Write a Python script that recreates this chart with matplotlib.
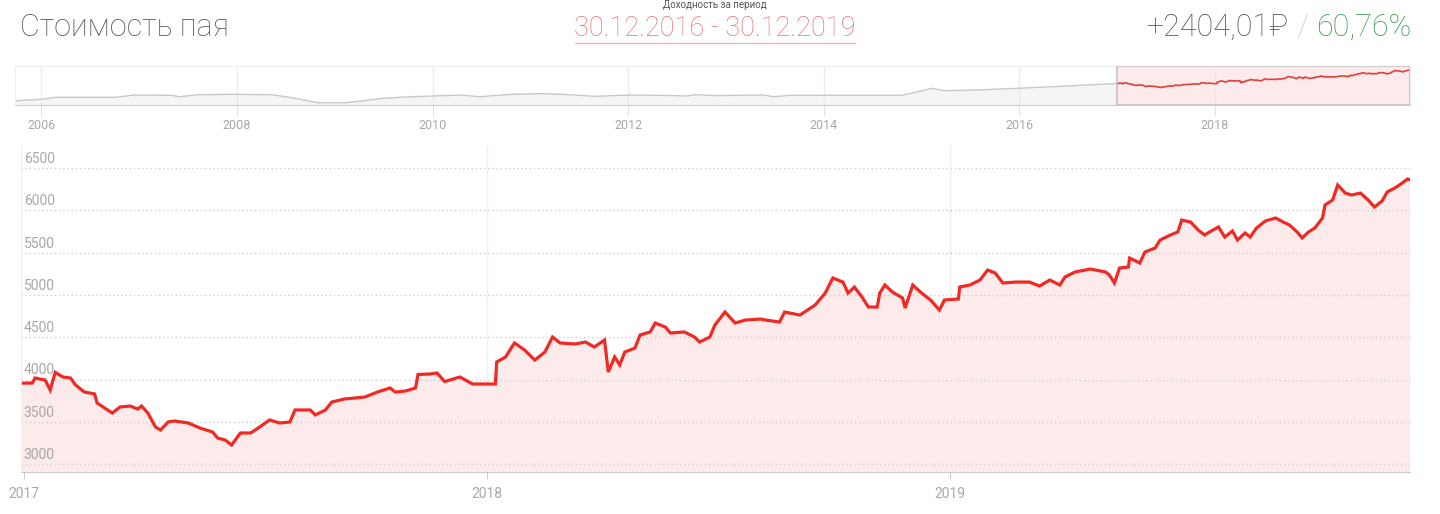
import numpy as np
import matplotlib.pyplot as plt
import matplotlib.transforms as mtransforms

plt.rcParams['font.family'] = ['Roboto', 'DejaVu Sans']

# unit price inside the selected period (30.12.2016 - 30.12.2019)
price_dates = [
    '2016-12-30', '2017-01-08', '2017-01-10', '2017-01-18', '2017-01-22', '2017-01-26',
    '2017-02-01', '2017-02-07', '2017-02-11', '2017-02-18', '2017-02-26', '2017-02-28',
    '2017-03-06', '2017-03-12', '2017-03-18', '2017-03-26', '2017-04-01', '2017-04-04',
    '2017-04-09', '2017-04-15', '2017-04-19', '2017-04-25', '2017-04-30', '2017-05-11',
    '2017-05-20', '2017-05-30', '2017-06-03', '2017-06-09', '2017-06-14', '2017-06-21',
    '2017-06-29', '2017-07-05', '2017-07-14', '2017-07-22', '2017-07-30', '2017-08-03',
    '2017-08-15', '2017-08-19', '2017-08-27', '2017-09-01', '2017-09-11', '2017-09-19',
    '2017-09-27', '2017-10-07', '2017-10-17', '2017-10-21', '2017-10-29', '2017-11-06',
    '2017-11-08', '2017-11-17', '2017-11-23', '2017-11-29', '2017-12-11', '2017-12-21',
    '2018-01-08', '2018-01-09', '2018-01-16', '2018-01-23', '2018-01-31', '2018-02-08',
    '2018-02-16', '2018-02-22', '2018-02-28', '2018-03-12', '2018-03-20', '2018-03-27',
    '2018-04-04', '2018-04-07', '2018-04-12', '2018-04-16', '2018-04-20', '2018-04-28',
    '2018-05-02', '2018-05-10', '2018-05-14', '2018-05-22', '2018-05-26', '2018-06-06',
    '2018-06-14', '2018-06-18', '2018-06-26', '2018-06-30', '2018-07-08', '2018-07-16',
    '2018-07-24', '2018-08-05', '2018-08-09', '2018-08-20', '2018-08-24', '2018-09-05',
    '2018-09-17', '2018-09-25', '2018-10-01', '2018-10-09', '2018-10-13', '2018-10-18',
    '2018-10-24', '2018-10-29', '2018-11-05', '2018-11-07', '2018-11-11', '2018-11-17',
    '2018-11-25', '2018-11-27', '2018-12-03', '2018-12-09', '2018-12-17', '2018-12-24',
    '2018-12-28', '2019-01-08', '2019-01-09', '2019-01-17', '2019-01-25', '2019-01-31',
    '2019-02-06', '2019-02-12', '2019-02-22', '2019-03-05', '2019-03-13', '2019-03-21',
    '2019-03-29', '2019-04-02', '2019-04-10', '2019-04-22', '2019-05-04', '2019-05-07',
    '2019-05-11', '2019-05-15', '2019-05-22', '2019-05-23', '2019-05-31', '2019-06-04',
    '2019-06-12', '2019-06-16', '2019-06-24', '2019-06-30', '2019-07-03', '2019-07-10',
    '2019-07-16', '2019-07-21', '2019-07-25', '2019-08-01', '2019-08-06', '2019-08-12',
    '2019-08-16', '2019-08-22', '2019-08-26', '2019-08-31', '2019-09-07', '2019-09-15',
    '2019-09-21', '2019-09-26', '2019-10-02', '2019-10-06', '2019-10-11', '2019-10-16',
    '2019-10-22', '2019-10-24', '2019-10-30', '2019-11-03', '2019-11-09', '2019-11-14',
    '2019-11-21', '2019-11-27', '2019-12-02', '2019-12-08', '2019-12-12', '2019-12-18',
    '2019-12-24', '2019-12-28', '2019-12-30',
]
price_values = [
    3957, 3959, 4018, 3994, 3876, 4085,
    4030, 4018, 3935, 3852, 3830, 3722,
    3663, 3604, 3675, 3687, 3651, 3687,
    3604, 3439, 3403, 3498, 3510, 3486,
    3427, 3380, 3309, 3285, 3226, 3368,
    3368, 3427, 3522, 3486, 3498, 3640,
    3640, 3581, 3640, 3734, 3770, 3782,
    3793, 3852, 3900, 3852, 3864, 3900,
    4060, 4065, 4077, 3976, 4030, 3947,
    3947, 4207, 4266, 4432, 4349, 4230,
    4325, 4502, 4432, 4420, 4443, 4384,
    4467, 4089, 4266, 4172, 4325, 4372,
    4526, 4562, 4668, 4620, 4550, 4562,
    4502, 4443, 4502, 4644, 4798, 4668,
    4703, 4715, 4703, 4680, 4798, 4762,
    4880, 5022, 5200, 5152, 5022, 5093,
    4975, 4857, 4857, 5022, 5117, 5034,
    4963, 4845, 5117, 5034, 4940, 4821,
    4940, 4952, 5093, 5117, 5176, 5294,
    5259, 5141, 5152, 5152, 5105, 5176,
    5117, 5212, 5271, 5306, 5271, 5235,
    5141, 5318, 5330, 5436, 5377, 5507,
    5554, 5649, 5708, 5744, 5885, 5862,
    5767, 5708, 5744, 5803, 5684, 5756,
    5649, 5732, 5684, 5791, 5874, 5909,
    5862, 5826, 5744, 5673, 5744, 5791,
    5909, 6063, 6122, 6299, 6204, 6181,
    6204, 6122, 6039, 6110, 6216, 6263,
    6323, 6370, 6361,
]

# full history shown in the navigator before the period
history_dates = [
    '2005-10-01', '2006-01-01', '2006-02-25', '2006-10-05', '2006-12-15', '2007-05-01',
    '2007-06-03', '2007-08-10', '2007-12-25', '2008-05-08', '2008-07-16', '2008-10-30',
    '2009-02-10', '2009-04-20', '2009-06-28', '2009-10-12', '2010-01-05', '2010-04-15',
    '2010-06-25', '2010-10-23', '2011-02-03', '2011-05-01', '2011-08-29', '2012-01-15',
    '2012-04-27', '2012-08-08', '2012-09-13', '2012-11-17', '2013-05-23', '2013-06-25',
    '2013-09-02', '2014-10-19', '2014-12-09', '2015-02-10', '2015-03-26', '2015-07-24',
    '2015-12-24', '2016-03-17', '2016-06-28', '2016-09-05', '2016-12-30',
]
history_values = [
    887, 1137, 1494, 1494, 1905, 1850,
    1600, 1960, 2030, 1960, 1494, 530,
    530, 887, 1316, 1600, 1726, 1905,
    1600, 2030, 2140, 2030, 1670, 1905,
    1850, 1726, 1960, 1790, 1905, 1600,
    1850, 1850, 2387, 3100, 2670, 2798,
    3100, 3280, 3513, 3690, 3957,
]

y_ticks = [3000, 3500, 4000, 4500, 5000, 5500, 6000, 6500]
main_years = ['2017', '2018', '2019']
nav_years = ['2006', '2008', '2010', '2012', '2014', '2016', '2018']

period_start, period_end = '2016-12-30', '2019-12-30'

pd_dates = np.array(price_dates, dtype='datetime64[D]')
hist_dates = np.array(history_dates, dtype='datetime64[D]')

W, H = 1440, 514
fig = plt.figure(figsize=(W / 100, H / 100), dpi=100)

red = '#ee2a24'
pink = '#fdeaea'
grey_txt = '#a8a8a8'

# ---------- main chart ----------
ax = fig.add_axes([21 / W, 1 - 472 / H, (1410 - 21) / W, (472 - 145) / H])
ax.fill_between(pd_dates, price_values, 0, color=pink, lw=0)
ax.plot(pd_dates, price_values, color=red, lw=2.3, solid_joinstyle='miter')
ax.set_xlim(np.datetime64(period_start), np.datetime64(period_end))
ax.set_ylim(2907, 6772)

ax.set_yticks(y_ticks)
ax.set_yticklabels([])
ax.tick_params(axis='y', length=0)
ax.grid(axis='y', color='#cfcfcf', ls=(0, (1, 2)), lw=1)

year_ticks = [np.datetime64(y + '-01-01') for y in main_years]
ax.set_xticks(year_ticks)
ax.set_xticklabels(main_years, color=grey_txt, fontsize=10)
ax.tick_params(axis='x', length=5, color='#cccccc', pad=6)
for t in year_ticks[1:]:
    ax.axvline(t, color='#efefef', lw=1, zorder=0)
for s in ['top', 'right']:
    ax.spines[s].set_visible(False)
ax.spines['left'].set_color('#f0f0f0')
ax.spines['bottom'].set_color('#cccccc')

ylab_tr = mtransforms.blended_transform_factory(ax.transAxes, ax.transData)
for v in y_ticks:
    ax.text(0.002, v + 25, str(v), transform=ylab_tr, ha='left', va='bottom',
            color=grey_txt, fontsize=10, zorder=1)

# ---------- navigator ----------
nav = fig.add_axes([15 / W, 1 - 105 / H, (1410 - 15) / W, (105 - 66) / H])
nav.set_xlim(np.datetime64('2005-09-25'), np.datetime64(period_end))
nav.set_ylim(119, 7084)
nav.axvspan(np.datetime64(period_start), np.datetime64(period_end),
            color=pink, lw=0, zorder=0)
nav.fill_between(hist_dates, history_values, 0, color='#f5f5f5', lw=0, zorder=1)
nav.plot(hist_dates, history_values, color='#c8c8c8', lw=1, zorder=2)
nav.plot(pd_dates, price_values, color='#e0403c', lw=1.2, zorder=2)
nav.axvspan(np.datetime64(period_start), np.datetime64(period_end), ymin=0, ymax=1,
            facecolor='none', edgecolor='#c4c4c4', lw=1.2, zorder=3)

nav_ticks = [np.datetime64(y + '-01-01') for y in nav_years]
nav.set_xticks(nav_ticks)
nav.set_xticklabels(nav_years, color=grey_txt, fontsize=9)
nav.tick_params(axis='x', length=7, color='#e0e0e0', pad=3)
nav.set_yticks([])
nav.grid(axis='x', color='#ececec', lw=1)
for s in ['top', 'left', 'right']:
    nav.spines[s].set_color('#eeeeee')
nav.spines['bottom'].set_color('#cccccc')

# ---------- header ----------
fig.text(20 / W, 1 - 27 / H, 'Стоимость пая', fontsize=22, color='#555555',
         fontweight='light', va='center', ha='left')
fig.text(715 / W, 1 - 5 / H, 'Доходность за период', fontsize=7, color='#555555',
         va='center', ha='center')
fig.text(715 / W, 1 - 28 / H, '30.12.2016 - 30.12.2019', fontsize=19.5, color='#e57373',
         fontweight='light', va='center', ha='center')
fig.add_artist(plt.Line2D([575 / W, 855 / W], [1 - 43 / H, 1 - 43 / H],
                          color='#f2b3b3', lw=1))

renderer = fig.canvas.get_renderer()
x_right = 1411
pieces = [('60,76%', '#3c9a50'), (' / ', '#cccccc'), ('+2404,01₽', '#555555')]
for txt, col in pieces:
    t = fig.text(x_right / W, 1 - 27 / H, txt, fontsize=22, color=col,
                 fontweight='light', va='center', ha='right')
    bb = t.get_window_extent(renderer)
    x_right -= bb.width

fig.savefig('out.png', dpi=100)
